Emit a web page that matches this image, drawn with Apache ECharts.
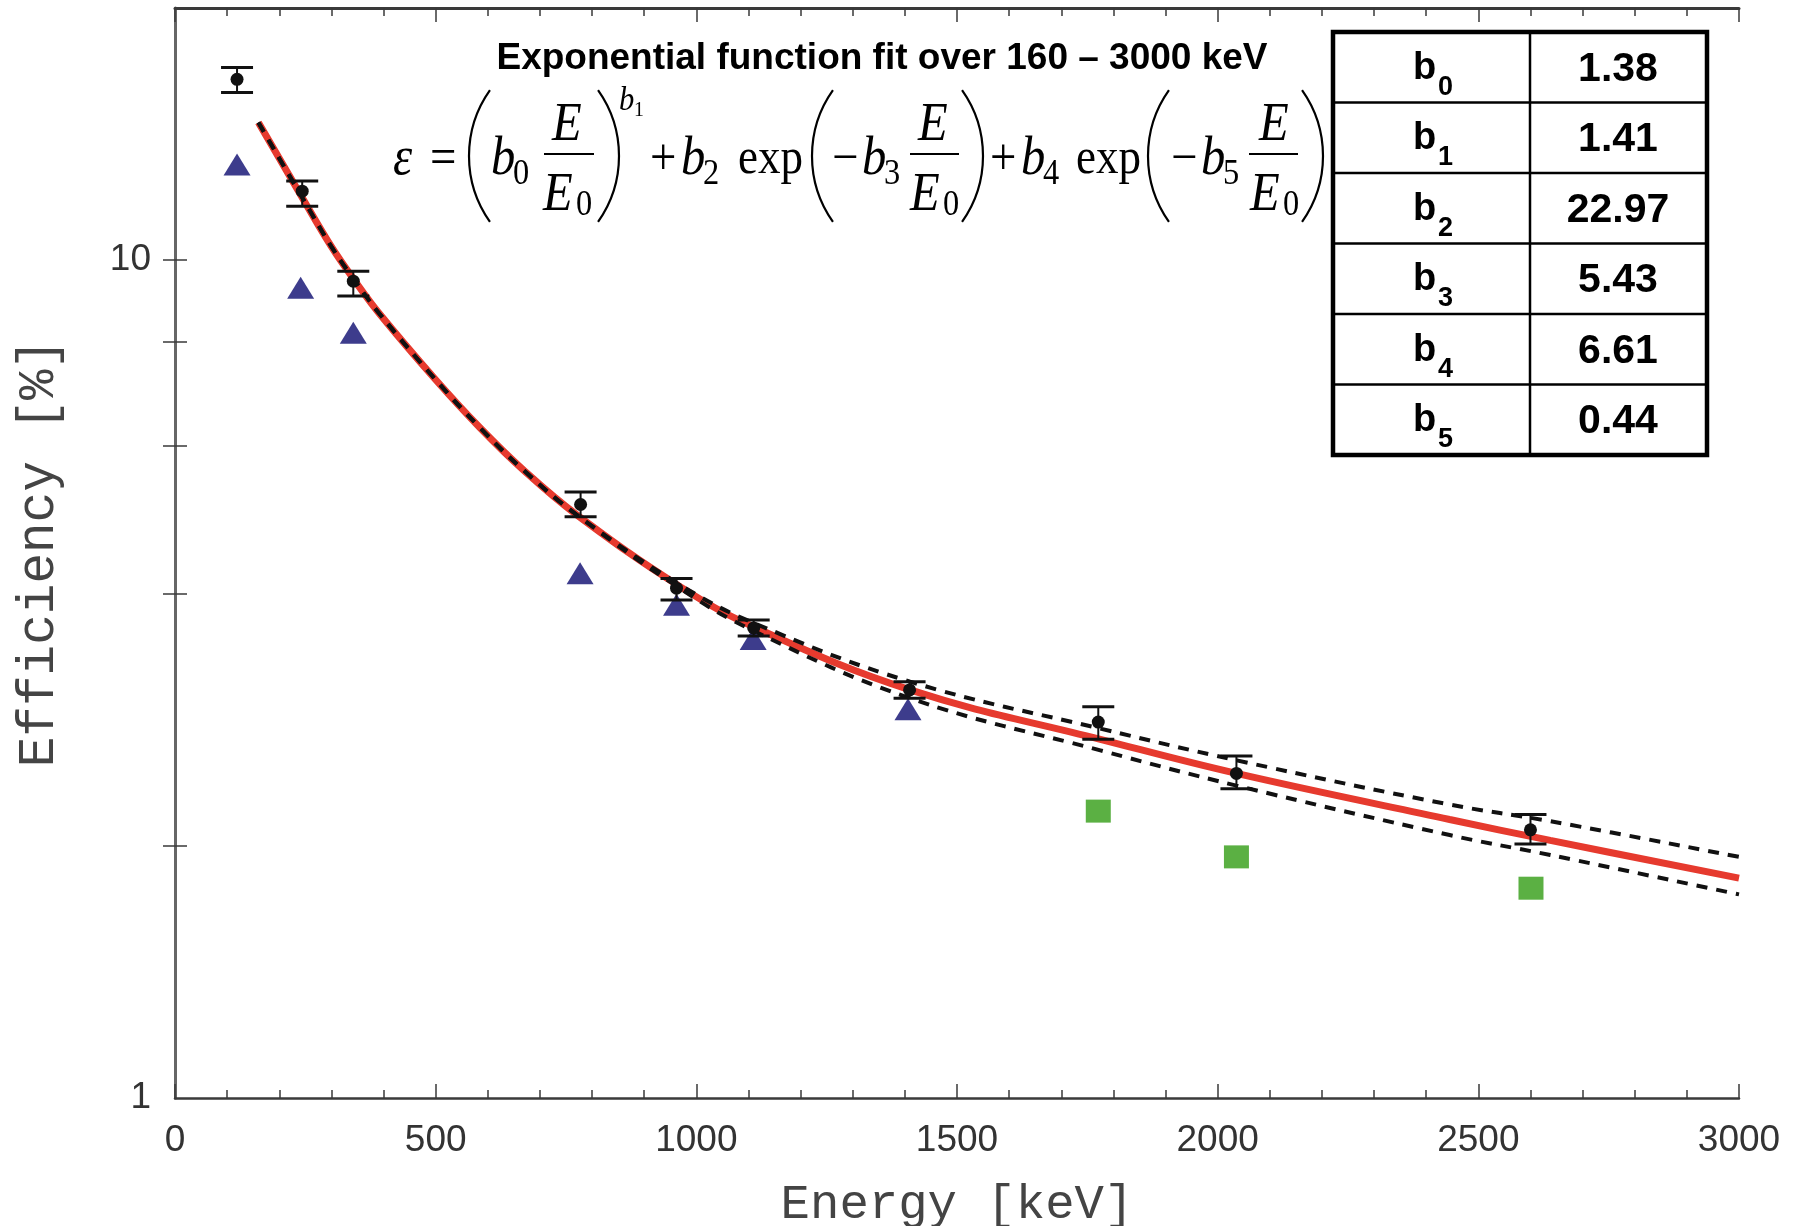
<!DOCTYPE html>
<html>
<head>
<meta charset="utf-8">
<title>Efficiency vs Energy</title>
<script src="https://cdn.jsdelivr.net/npm/echarts@6.0.0/dist/echarts.min.js"></script>
<style>
  html, body { margin: 0; padding: 0; background: #fff; }
  #chart { width: 1808px; height: 1226px; }
</style>
</head>
<body>
<div id="chart"></div>
<script>
// measured efficiencies with error bars (keV, %)
const measE = [119, 244, 342, 778, 962, 1110, 1409, 1771, 2036, 2600]
const measEff = [16.44, 12.09, 9.44, 5.11, 4.06, 3.64, 3.07, 2.81, 2.44, 2.09]
const measLow = [15.85, 11.6, 9.06, 4.94, 3.93, 3.56, 3.0, 2.68, 2.34, 2.01]
const measHigh = [16.98, 12.43, 9.7, 5.29, 4.17, 3.72, 3.14, 2.93, 2.56, 2.18]

// blue triangles
const triE = [119, 241, 342, 777, 962, 1109, 1406]
const triEff = [13.01, 9.27, 8.19, 4.23, 3.88, 3.53, 2.91]

// green squares
const sqE = [1771, 2036, 2601]
const sqEff = [2.2, 1.94, 1.78]

// fit curve and its confidence band
const fitE = [160, 245, 300, 345, 393, 500, 585, 668, 770, 968, 1110, 1410, 1775, 2036, 2445, 2638, 3000]
const fitEff = [14.6, 11.85, 10.38, 9.45, 8.62, 7.2, 6.31, 5.62, 4.97, 4.08, 3.65, 3.07, 2.68, 2.44, 2.15, 2.03, 1.83]
const bandHigh = [14.6, 11.85, 10.38, 9.45, 8.62, 7.2, 6.31, 5.62, 4.97, 4.1, 3.69, 3.14, 2.76, 2.53, 2.24, 2.14, 1.94]
const bandLow = [14.6, 11.85, 10.38, 9.45, 8.62, 7.2, 6.31, 5.62, 4.97, 4.06, 3.61, 3.0, 2.6, 2.36, 2.06, 1.95, 1.75]

// fit parameter table
const paramSubs = ['0', '1', '2', '3', '4', '5']
const paramValues = ['1.38', '1.41', '22.97', '5.43', '6.61', '0.44']

const titleText = 'Exponential function fit over 160 \u2013 3000 keV'

const zip = (xs, ys) => xs.map((x, i) => [x, ys[i]])

const AXIS = '#3a3a3a'
const TICK_FONT = '"Liberation Sans", Arial, sans-serif'
const MONO = '"Liberation Mono", "Courier New", monospace'
const SERIF = '"Liberation Serif", "Times New Roman", serif'

// ---- formula, built from small text pieces ----
const MAIN_Y = 160
const SUB_Y = 175
function mathText(s, x, y, size, italic) {
  return {
    type: 'text',
    x: x,
    y: y,
    scaleX: 0.9,
    style: {
      text: s,
      font: (italic ? 'italic ' : '') + size + 'px ' + SERIF,
      fill: '#000',
      textAlign: 'left',
      textVerticalAlign: 'middle'
    }
  }
}
function paren(xEdge, open) {
  // big thin parenthesis drawn as an arc
  const r = 114
  const half = 0.616
  const cy = 156
  return {
    type: 'arc',
    shape: open
      ? { cx: xEdge + r, cy: cy, r: r, startAngle: Math.PI - half, endAngle: Math.PI + half }
      : { cx: xEdge - r, cy: cy, r: r, startAngle: -half, endAngle: half },
    style: { stroke: '#000', lineWidth: 2.2, fill: null }
  }
}
function bar(x1, x2) {
  return { type: 'line', shape: { x1: x1, y1: 154, x2: x2, y2: 154 }, style: { stroke: '#000', lineWidth: 2 } }
}

const formula = [
  mathText('\u03b5', 393, MAIN_Y, 54, true),
  mathText('=', 430, MAIN_Y, 52, false),
  paren(469, true),
  mathText('b', 491, MAIN_Y, 54, true),
  mathText('0', 513, SUB_Y, 36, false),
  mathText('E', 552, 126, 54, true),
  bar(544, 594),
  mathText('E', 543, 196, 54, true),
  mathText('0', 576, 206, 36, false),
  paren(619, false),
  mathText('b', 619, 101, 34, true),
  mathText('1', 634, 110, 22, false),
  mathText('+', 650, MAIN_Y, 52, false),
  mathText('b', 681, MAIN_Y, 54, true),
  mathText('2', 703, SUB_Y, 36, false),
  mathText('exp', 738, MAIN_Y, 50, false),
  paren(812, true),
  mathText('\u2212', 832, MAIN_Y, 52, false),
  mathText('b', 862, MAIN_Y, 54, true),
  mathText('3', 884, SUB_Y, 36, false),
  mathText('E', 918, 126, 54, true),
  bar(910, 959),
  mathText('E', 910, 196, 54, true),
  mathText('0', 943, 206, 36, false),
  paren(983, false),
  mathText('+', 990, MAIN_Y, 52, false),
  mathText('b', 1021, MAIN_Y, 54, true),
  mathText('4', 1043, SUB_Y, 36, false),
  mathText('exp', 1076, MAIN_Y, 50, false),
  paren(1148, true),
  mathText('\u2212', 1171, MAIN_Y, 52, false),
  mathText('b', 1201, MAIN_Y, 54, true),
  mathText('5', 1223, SUB_Y, 36, false),
  mathText('E', 1259, 126, 54, true),
  bar(1249, 1298),
  mathText('E', 1250, 196, 54, true),
  mathText('0', 1283, 206, 36, false),
  paren(1323, false)
]

// ---- parameter table ----
const TBL = { left: 1333, top: 32, width: 374, rowH: 70.5, split: 1530 }
const table = [
  {
    type: 'rect',
    z: 10,
    shape: { x: TBL.left, y: TBL.top, width: TBL.width, height: TBL.rowH * paramSubs.length },
    style: { fill: '#fff', stroke: '#000', lineWidth: 4.5 }
  },
  {
    type: 'line',
    z: 11,
    shape: { x1: TBL.split, y1: TBL.top, x2: TBL.split, y2: TBL.top + TBL.rowH * paramSubs.length },
    style: { stroke: '#000', lineWidth: 2.5 }
  }
]
paramSubs.forEach((sub, i) => {
  const yTop = TBL.top + i * TBL.rowH
  const yMid = yTop + TBL.rowH / 2
  if (i > 0) {
    table.push({
      type: 'line',
      z: 11,
      shape: { x1: TBL.left, y1: yTop, x2: TBL.left + TBL.width, y2: yTop },
      style: { stroke: '#000', lineWidth: 2.5 }
    })
  }
  table.push({
    type: 'text', z: 12, x: 1413, y: yMid + 1,
    style: { text: 'b', font: 'bold 38px ' + TICK_FONT, fill: '#000', textAlign: 'left', textVerticalAlign: 'middle' }
  })
  table.push({
    type: 'text', z: 12, x: 1438, y: yMid + 20,
    style: { text: sub, font: 'bold 27px ' + TICK_FONT, fill: '#000', textAlign: 'left', textVerticalAlign: 'middle' }
  })
  table.push({
    type: 'text', z: 12, x: 1618, y: yMid + 2,
    style: { text: paramValues[i], font: 'bold 41px ' + TICK_FONT, fill: '#000', textAlign: 'center', textVerticalAlign: 'middle' }
  })
})

const title = {
  type: 'text',
  x: 882,
  y: 59,
  style: { text: titleText, font: 'bold 37px ' + TICK_FONT, fill: '#000', textAlign: 'center', textVerticalAlign: 'middle' }
}

// ---- axes ----
function xAxisCfg(pos) {
  const bottom = pos === 'bottom'
  return {
    type: 'value',
    position: pos,
    min: 0,
    max: 3000,
    interval: 500,
    axisLine: { show: true, onZero: false, lineStyle: { color: AXIS, width: bottom ? 2.5 : 3 } },
    axisTick: { show: true, inside: true, length: 14, lineStyle: { color: AXIS, width: 1.5 } },
    minorTick: { show: true, splitNumber: 5, length: 8, lineStyle: { color: AXIS, width: 1.5 } },
    splitLine: { show: false },
    axisLabel: {
      show: bottom,
      margin: 24,
      fontSize: 37,
      color: '#333',
      fontFamily: TICK_FONT,
      formatter: (v) => String(v)
    },
    name: bottom ? 'Energy [keV]' : '',
    nameLocation: 'middle',
    nameGap: 83,
    nameTextStyle: { fontFamily: MONO, fontSize: 49, color: '#444' }
  }
}
function yAxisCfg(pos) {
  const left = pos === 'left'
  return {
    type: 'log',
    logBase: 10,
    position: pos,
    min: 1,
    max: 20,
    axisLine: { show: true, lineStyle: { color: left ? AXIS : '#666', width: left ? 2 : 3 } },
    axisTick: { show: true, inside: true, length: 12, customValues: [2, 4, 6, 8, 10], lineStyle: { color: AXIS, width: 1.5 } },
    splitLine: { show: false },
    axisLabel: {
      show: left,
      customValues: [1, 10],
      margin: 24,
      fontSize: 37,
      color: '#333',
      fontFamily: TICK_FONT,
      formatter: (v) => String(v)
    },
    name: left ? 'Efficiency [%]' : '',
    nameLocation: 'middle',
    nameGap: 110,
    nameTextStyle: { fontFamily: MONO, fontSize: 51, color: '#444' }
  }
}

const errData = measE.map((e, i) => [e, measLow[i], measHigh[i]])

const option = {
  animation: false,
  backgroundColor: '#fff',
  grid: { left: 175, right: 69, top: 8, bottom: 128, outerBoundsMode: 'none', containLabel: false },
  xAxis: [xAxisCfg('bottom'), xAxisCfg('top')],
  yAxis: [yAxisCfg('left'), yAxisCfg('right')],
  graphic: { elements: [title].concat(formula, table) },
  series: [
    {
      name: 'fit',
      type: 'line',
      data: zip(fitE, fitEff),
      showSymbol: false,
      smooth: 0.4,
      z: 2,
      lineStyle: { color: '#e63a2e', width: 7 }
    },
    {
      name: 'band high',
      type: 'line',
      data: zip(fitE, bandHigh),
      showSymbol: false,
      smooth: 0.4,
      z: 3,
      lineStyle: { color: '#111', width: 4, type: [11, 9] }
    },
    {
      name: 'band low',
      type: 'line',
      data: zip(fitE, bandLow),
      showSymbol: false,
      smooth: 0.4,
      z: 3,
      lineStyle: { color: '#111', width: 4, type: [11, 9] }
    },
    {
      name: 'triangles',
      type: 'scatter',
      data: zip(triE, triEff),
      symbol: 'triangle',
      symbolSize: [27, 22],
      z: 4,
      itemStyle: { color: '#3d3c8c', opacity: 1 }
    },
    {
      name: 'squares',
      type: 'scatter',
      data: zip(sqE, sqEff),
      symbol: 'rect',
      symbolSize: [25, 23],
      z: 4,
      itemStyle: { color: '#5bb043', opacity: 1 }
    },
    {
      name: 'error bars',
      type: 'custom',
      data: errData,
      z: 5,
      encode: { x: 0, y: [1, 2] },
      renderItem: function (params, api) {
        const lo = api.coord([api.value(0), api.value(1)])
        const hi = api.coord([api.value(0), api.value(2)])
        const half = 16
        const st = { stroke: '#111', lineWidth: 3 }
        return {
          type: 'group',
          children: [
            { type: 'line', shape: { x1: lo[0], y1: lo[1], x2: hi[0], y2: hi[1] }, style: { stroke: '#111', lineWidth: 2 } },
            { type: 'line', shape: { x1: lo[0] - half, y1: lo[1], x2: lo[0] + half, y2: lo[1] }, style: st },
            { type: 'line', shape: { x1: hi[0] - half, y1: hi[1], x2: hi[0] + half, y2: hi[1] }, style: st }
          ]
        }
      }
    },
    {
      name: 'measured',
      type: 'scatter',
      data: zip(measE, measEff),
      symbol: 'circle',
      symbolSize: 13,
      z: 6,
      itemStyle: { color: '#111', opacity: 1 }
    }
  ]
}

const chart = echarts.init(document.getElementById('chart'))
chart.setOption(option)
</script>
</body>
</html>
